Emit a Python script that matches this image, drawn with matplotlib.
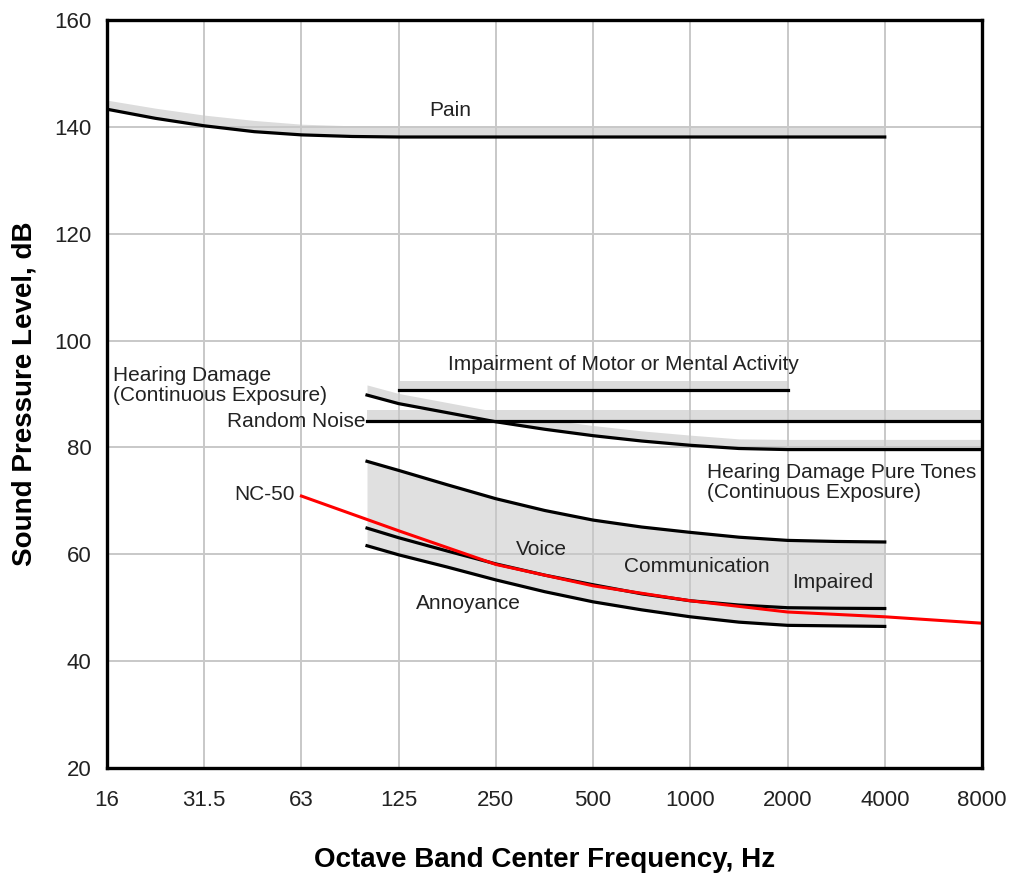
import numpy as np
import matplotlib
matplotlib.use('Agg')
import matplotlib.pyplot as plt

plt.rcParams['font.family'] = ['Liberation Sans', 'DejaVu Sans']

# octave bands shown on the x axis
bands = [16, 31.5, 63, 125, 250, 500, 1000, 2000, 4000, 8000]
band_labels = ['16', '31.5', '63', '125', '250', '500', '1000', '2000', '4000', '8000']

# threshold of pain
pain_f = [16, 22.4, 31.5, 45, 63, 90, 125, 250, 500, 1000, 2000, 4000]
pain_db = [143.3, 141.6, 140.2, 139.1, 138.5, 138.2, 138.1, 138.1, 138.1, 138.1, 138.1, 138.1]
pain_top = [145.0, 143.5, 142.2, 141.2, 140.5, 140.2, 140.1, 140.1, 140.1, 140.1, 140.1, 140.1]

# impairment of motor or mental activity
motor_f = [125, 2000]
motor_db = [90.7, 90.7]
motor_top = [92.4, 92.4]

# hearing damage, random noise
noise_f = [100, 8000]
noise_db = [85.0, 85.0]
noise_top = [87.0, 87.0]

# hearing damage, pure tones
tone_f = [100, 125, 177, 250, 354, 500, 707, 1000, 1414, 2000, 4000, 8000]
tone_db = [89.8, 88.2, 86.5, 84.8, 83.4, 82.2, 81.2, 80.4, 79.8, 79.6, 79.6, 79.6]
tone_top = [91.7, 90.1, 88.4, 86.7, 85.3, 84.1, 83.1, 82.3, 81.6, 81.5, 81.5, 81.5]

# voice communication impaired / annoyance
voice_f = [100, 125, 177, 250, 354, 500, 707, 1000, 1414, 2000, 2828, 4000]
voice_upper = [77.4, 75.7, 73.0, 70.4, 68.2, 66.4, 65.1, 64.1, 63.2, 62.6, 62.4, 62.3]
voice_lower = [64.9, 63.1, 60.6, 58.2, 56.1, 54.3, 52.6, 51.3, 50.5, 50.0, 49.9, 49.85]
annoy_db = [61.6, 59.9, 57.6, 55.2, 53.0, 51.1, 49.6, 48.3, 47.3, 46.7, 46.6, 46.5]

# NC-50 curve
nc_f = [63, 125, 250, 500, 1000, 2000, 4000, 8000]
nc_db = [70.9, 64.4, 58.1, 54.1, 51.3, 49.2, 48.3, 47.1]


def pos(f):
    # place a frequency on the evenly spaced octave axis
    return np.interp(np.log(f), np.log(bands), np.arange(len(bands)))


band_gray = '#dcdcdc'
lw = 2.3

fig = plt.figure(figsize=(10.14, 8.76), dpi=100)
ax = fig.add_axes([107/1014, 1-768/876, (982-107)/1014, (768-20)/876])

# grey bands
ax.fill_between(pos(pain_f), pain_db, pain_top, color=band_gray, lw=0, zorder=0.3)
ax.fill_between(pos(motor_f), motor_db, motor_top, color=band_gray, lw=0, zorder=0.3)
ax.fill_between(pos(noise_f), noise_db, noise_top, color=band_gray, lw=0, zorder=0.3)
ax.fill_between(pos(tone_f), tone_db, tone_top, color=band_gray, lw=0, zorder=0.3)
ax.fill_between(pos(voice_f), annoy_db, voice_upper, color='#e0e0e0', lw=0, zorder=0.3)

# black limit lines
ax.plot(pos(pain_f), pain_db, color='k', lw=lw, zorder=2)
ax.plot(pos(motor_f), motor_db, color='k', lw=lw, zorder=2)
ax.plot(pos(noise_f), noise_db, color='k', lw=lw, zorder=2)
ax.plot(pos(tone_f), tone_db, color='k', lw=lw, zorder=2)
ax.plot(pos(voice_f), voice_upper, color='k', lw=lw, zorder=2)
ax.plot(pos(voice_f), voice_lower, color='k', lw=lw, zorder=2)
ax.plot(pos(voice_f), annoy_db, color='k', lw=lw, zorder=2)

ax.plot(pos(nc_f), nc_db, color='#ff0000', lw=2.2, zorder=3)

# labels inside the chart
fs = 15
tc = '#222222'
ls = 1.1
ax.text(pos(180), 143.0, 'Pain', fontsize=fs, color=tc, ha='center', va='center')
ax.text(pos(620), 95.5, 'Impairment of Motor or Mental Activity', fontsize=fs, color=tc,
        ha='center', va='center')
ax.text(0.06, 91.6, 'Hearing Damage\n(Continuous Exposure)', fontsize=fs, color=tc,
        ha='left', va='center', linespacing=ls)
ax.text(pos(99), 84.9, 'Random Noise', fontsize=fs, color=tc, ha='right', va='center')
ax.text(pos(1130), 73.4, 'Hearing Damage Pure Tones\n(Continuous Exposure)', fontsize=fs,
        color=tc, ha='left', va='center', linespacing=ls)
ax.text(pos(60), 71.2, 'NC-50', fontsize=fs, color=tc, ha='right', va='center')
ax.text(pos(345), 60.9, 'Voice', fontsize=fs, color=tc, ha='center', va='center')
ax.text(pos(1050), 57.75, 'Communication', fontsize=fs, color=tc, ha='center', va='center')
ax.text(pos(2750), 54.8, 'Impaired', fontsize=fs, color=tc, ha='center', va='center')
ax.text(pos(205), 50.8, 'Annoyance', fontsize=fs, color=tc, ha='center', va='center')

ax.set_xlim(0, 9)
ax.set_ylim(20, 160)
ax.set_xticks(np.arange(len(bands)))
ax.set_xticklabels(band_labels)
ax.set_yticks(np.arange(20, 161, 20))
ax.tick_params(axis='both', length=0, labelsize=16, labelcolor=tc)
ax.tick_params(axis='x', pad=16)
ax.tick_params(axis='y', pad=11)

ax.set_axisbelow(True)
ax.grid(True, color='#c8c8c8', lw=1.4)
for s in ax.spines.values():
    s.set_linewidth(2.4)
    s.set_color('k')
    s.set_zorder(5)

ax.set_xlabel('Octave Band Center Frequency, Hz', fontsize=20, fontweight='bold',
              labelpad=26)
ax.set_ylabel('Sound Pressure Level, dB', fontsize=20, fontweight='bold', labelpad=12)

fig.savefig('out.png', dpi=100)
